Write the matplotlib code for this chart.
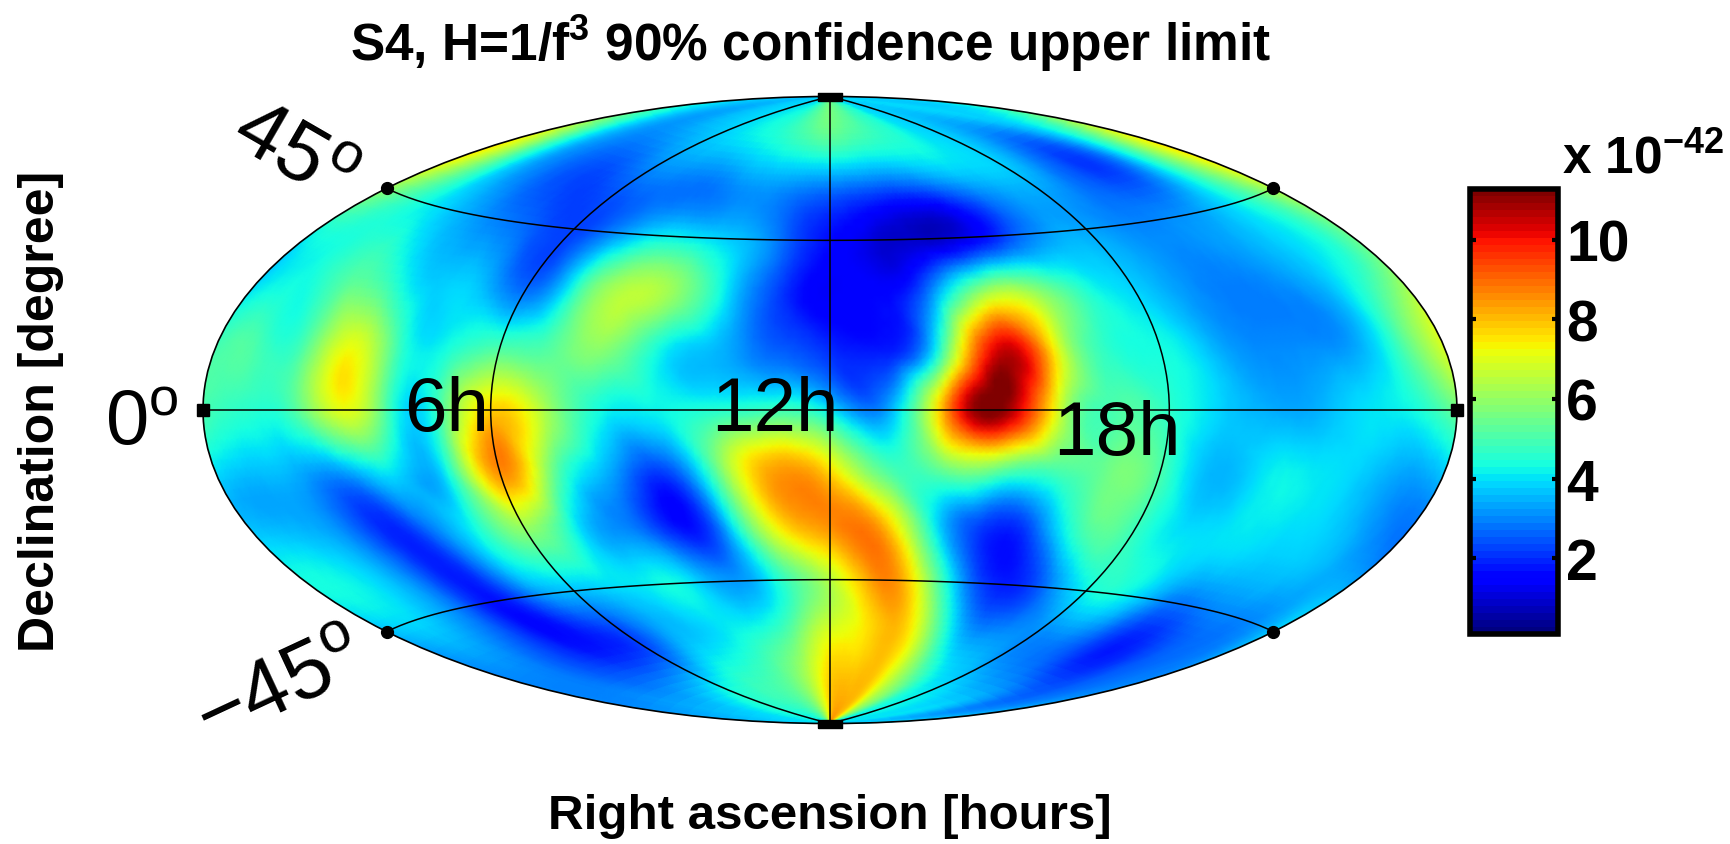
import numpy as np
import matplotlib
matplotlib.use('Agg')
import matplotlib.pyplot as plt
import matplotlib.tri as mtri

plt.rcParams['font.family'] = ['Liberation Sans', 'DejaVu Sans']
plt.rcParams['mathtext.fontset'] = 'custom'
plt.rcParams['mathtext.rm'] = 'Liberation Sans'
plt.rcParams['mathtext.bf'] = 'Liberation Sans:bold'
plt.rcParams['mathtext.default'] = 'regular'

# right ascension 0h..24h, declination +90..-90 in 15 degree rows
hours = list(range(25))
decl = [90, 75, 60, 45, 30, 15, 0, -15, -30, -45, -60, -75, -90]

p90 = [3.8, 3.8, 3.8, 3.8, 3.8, 3.8, 3.8, 3.8, 3.8, 4.2, 4.8, 5.2, 5.5, 5.2, 5.0, 4.5, 4.2, 3.9, 3.9, 3.9, 3.9, 3.9, 3.9, 3.9, 3.9]
p75 = [4.6, 4.0, 3.4, 3.2, 3.4, 3.6, 3.8, 4.0, 4.2, 4.4, 4.7, 5.0, 5.2, 5.0, 4.8, 4.6, 4.4, 4.0, 3.8, 3.5, 3.3, 3.5, 3.8, 4.0, 4.6]
p60 = [7.5, 5.5, 3.6, 2.8, 2.4, 2.4, 2.8, 2.9, 2.8, 3.0, 3.2, 3.0, 2.8, 2.6, 2.5, 2.8, 3.3, 3.6, 3.6, 3.0, 2.3, 2.2, 3.5, 5.5, 7.5]
p45 = [6.0, 4.8, 4.0, 3.4, 2.9, 2.5, 2.2, 3.0, 4.0, 4.0, 3.6, 2.6, 1.6, 1.0, 0.8, 1.1, 2.2, 3.2, 3.3, 3.0, 3.0, 3.2, 3.8, 4.8, 6.5]
p30 = [3.8, 4.3, 5.0, 4.5, 3.7, 3.6, 2.6, 4.6, 6.5, 6.0, 4.0, 2.2, 1.3, 1.5, 3.2, 6.2, 6.0, 4.5, 3.8, 3.2, 2.9, 3.1, 3.6, 4.3, 5.5]
p15 = [4.7, 4.8, 5.0, 7.0, 4.8, 4.3, 5.0, 5.2, 5.8, 4.2, 3.5, 2.6, 2.0, 1.8, 5.0, 10.5, 7.5, 4.6, 4.3, 3.5, 3.0, 3.0, 3.3, 5.0, 7.0]
p00 = [5.0, 4.6, 4.9, 7.0, 5.0, 4.8, 7.8, 6.3, 4.3, 4.2, 4.5, 4.8, 4.0, 3.3, 8.5, 11.2, 6.8, 5.0, 4.6, 3.8, 3.4, 3.5, 4.0, 4.3, 5.5]
m15 = [3.6, 3.4, 3.2, 3.0, 3.8, 4.3, 8.6, 5.5, 3.5, 2.3, 5.5, 8.3, 7.5, 5.0, 5.5, 5.5, 5.0, 5.5, 5.0, 3.5, 4.0, 4.1, 3.8, 3.2, 3.3]
m30 = [4.2, 4.0, 3.4, 2.1, 2.5, 4.3, 5.8, 4.2, 3.0, 1.7, 3.5, 7.5, 8.6, 8.2, 4.2, 2.1, 2.6, 5.0, 4.8, 4.0, 4.0, 3.9, 3.8, 3.4, 3.0]
m45 = [3.6, 3.9, 3.5, 2.5, 1.7, 3.0, 3.6, 3.9, 4.2, 3.8, 3.2, 4.8, 6.5, 8.5, 7.0, 3.2, 1.8, 2.8, 4.2, 4.2, 3.1, 2.8, 3.0, 3.0, 3.8]
m60 = [3.0, 3.0, 2.8, 2.3, 1.8, 1.8, 2.2, 3.2, 3.7, 4.1, 4.5, 5.5, 7.0, 7.5, 8.0, 5.8, 3.5, 3.2, 3.0, 2.8, 2.3, 1.8, 2.2, 2.7, 3.0]
m75 = [3.2, 3.2, 3.3, 3.3, 3.5, 3.8, 4.2, 4.5, 4.8, 5.0, 5.5, 6.5, 7.8, 8.0, 8.0, 6.8, 5.5, 4.3, 4.0, 3.8, 3.6, 3.5, 3.0, 2.9, 3.5]
m90 = [4.0, 4.0, 4.0, 4.0, 4.0, 4.0, 4.0, 4.0, 4.0, 4.5, 5.0, 6.0, 7.5, 8.5, 8.0, 7.0, 5.5, 4.5, 4.0, 4.0, 4.0, 4.0, 4.0, 4.0, 4.0]

values = np.array([p90, p75, p60, p45, p30, p15, p00, m15, m30, m45, m60, m75, m90])

cbar_ticks = [2, 4, 6, 8, 10]
vmin = 0.1
vmax = 11.27

W, H = 1731, 845


def box(x0, y0, x1, y1):
    # pixel box (y from top) to figure fractions
    return [x0 / W, 1 - y1 / H, (x1 - x0) / W, (y1 - y0) / H]


fig = plt.figure(figsize=(W / 100, H / 100), dpi=100)
ax = fig.add_axes(box(203, 97, 1457, 725), projection='hammer')
ax.set_facecolor('#30e0e0')

# triangles on the lon/lat grid, matplotlib's cubic interpolator smooths the field for drawing
lon, lat = np.meshgrid(np.radians((np.array(hours) - 12) * 15.0), np.radians(np.array(decl, dtype=float)))
nrow, ncol = lon.shape
idx = np.arange(nrow * ncol).reshape(nrow, ncol)
tris = np.vstack([
    np.column_stack([idx[:-1, :-1].ravel(), idx[1:, :-1].ravel(), idx[1:, 1:].ravel()]),
    np.column_stack([idx[:-1, :-1].ravel(), idx[1:, 1:].ravel(), idx[:-1, 1:].ravel()]),
])
grid = mtri.Triangulation(lon.ravel(), lat.ravel(), tris)
smooth = mtri.CubicTriInterpolator(grid, values.ravel())
fine_lon, fine_lat = np.meshgrid(np.linspace(lon.min(), lon.max(), 193), np.linspace(lat.max(), lat.min(), 97))
fine_vals = np.ma.filled(smooth(fine_lon, fine_lat), 4.0)

norm = plt.Normalize(vmin, vmax)
ax.pcolormesh(fine_lon, fine_lat, fine_vals, shading='gouraud', cmap=plt.get_cmap('jet', 256), norm=norm)

ax.set_longitude_grid(90)
ax.set_latitude_grid(45)
ax.set_longitude_grid_ends(90)
ax.grid(True, color='black', linewidth=1.1, linestyle='-')
ax.set_xticklabels([])
ax.set_yticklabels([])
ax.tick_params(length=0)
for s in ax.spines.values():
    s.set_linewidth(1.2)
    s.set_edgecolor('black')

# end marks on the grid lines
ax.plot(np.radians([-180, 180]), [0, 0], 's', color='black', ms=8.5, clip_on=False, zorder=5)
ax.plot(np.radians([-180, -180, 180, 180]), np.radians([45, -45, 45, -45]), 'o', color='black',
        ms=8.5, clip_on=False, zorder=5)
rect = [(-1.5, -0.5), (1.5, -0.5), (1.5, 0.5), (-1.5, 0.5), (-1.5, -0.5)]
ax.plot([0, 0], np.radians([90, -90]), linestyle='none', marker=rect, color='black', ms=17,
        clip_on=False, zorder=5)


def label(x, y, s, **kw):
    fig.text(x / W, 1 - y / H, s, ha='center', va='center', **kw)


label(811, 44, 'S4, H=1/f$^{3}$ 90% confidence upper limit', fontsize=37, fontweight='bold')
label(830, 817, 'Right ascension [hours]', fontsize=35.5, fontweight='bold')
label(41, 411, 'Declination [degree]', fontsize=36, fontweight='bold', rotation=90)

label(447, 412, '6h', fontsize=55, zorder=6)
label(775, 412, '12h', fontsize=55, zorder=6)
label(1117, 436, '18h', fontsize=55, zorder=6)
label(293, 155, '45$^{o}$', fontsize=60, rotation=-30)
label(142, 425, '0$^{o}$', fontsize=56)
label(280, 690, '\u221245$^{o}$', fontsize=60, rotation=25)

cax = fig.add_axes(box(1470, 190, 1558, 635))
cb = fig.colorbar(plt.cm.ScalarMappable(norm=norm, cmap=plt.get_cmap('jet', 64)), cax=cax,
                  ticks=cbar_ticks)
cb.outline.set_linewidth(4)
cax.tick_params(direction='in', length=4, width=3, left=True, right=True, labelsize=41, pad=6)
for t in cax.get_yticklabels():
    t.set_fontweight('bold')
fig.text(1562 / W, 1 - 173 / H, 'x 10$^{\\mathbf{\u221242}}$', fontsize=37, fontweight='bold',
         ha='left', va='baseline')

fig.savefig('out.png', dpi=100)
